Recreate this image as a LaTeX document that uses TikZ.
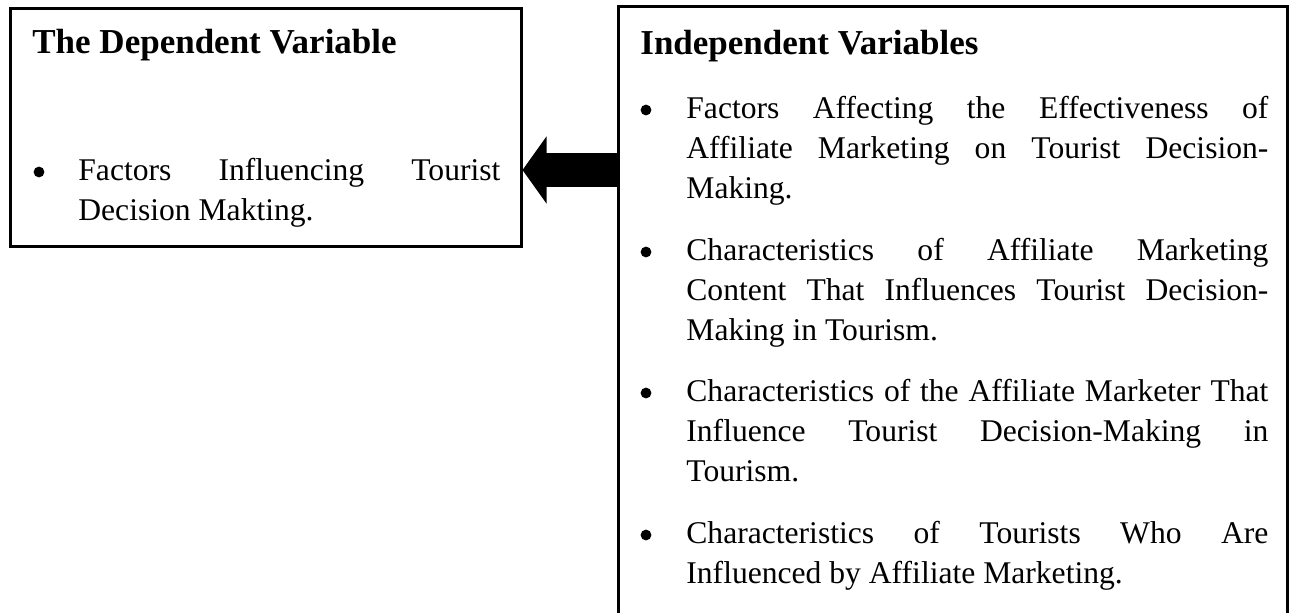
\documentclass[tikz,border=0pt]{standalone}
\usepackage{fontspec}
\setmainfont{Liberation Serif}
\usetikzlibrary{arrows.meta,fit}

\begin{document}
\begin{tikzpicture}[x=0.5pt,y=-0.5pt,
  panel/.style={draw,line width=1.5pt,inner sep=0pt},
  heading/.style={font=\fontsize{17.5}{20}\selectfont\bfseries,inner sep=0pt,anchor=base west},
  itemtext/.style={font=\fontsize{15.8}{20}\selectfont,inner sep=0pt,anchor=base west,align=justify},
  dot/.style={circle,fill,inner sep=0pt,minimum size=5.4pt}]
  \useasboundingbox (0,0) rectangle (1289,612);
  % the two boxes
  \node[panel,fit={(10,8) (521,246)}] (depbox) {};
  \node[panel,fit={(618,6) (1287,660)}] (indepbox) {};
  % left box
  \node[heading] (deptitle) at (32,53) {The Dependent Variable};
  \node[dot] (depdot) at (39,172) {};
  \node[itemtext,text width=211pt] (depitem) at (78,180) {Factors Influencing Tourist\linebreak Decision Makting.};
  % right box
  \node[heading] (indeptitle) at (640,54) {Independent Variables};
  \node[dot] (dotA) at (646,110) {};
  \node[itemtext,text width=291pt] (itemA) at (686,118) {Factors Affecting the Effectiveness of\linebreak Affiliate Marketing on Tourist Decision-\linebreak Making.};
  \node[dot] (dotB) at (646,252) {};
  \node[itemtext,text width=291pt] (itemB) at (686,260) {Characteristics of Affiliate Marketing\linebreak Content That Influences Tourist Decision-\linebreak Making in Tourism.};
  \node[dot] (dotC) at (646,393) {};
  \node[itemtext,text width=291pt] (itemC) at (686,401) {Characteristics of the Affiliate Marketer That\linebreak Influence Tourist Decision-Making in\linebreak Tourism.};
  \node[dot] (dotD) at (646,535) {};
  \node[itemtext,text width=291pt] (itemD) at (686,543) {Characteristics of Tourists Who Are\linebreak Influenced by Affiliate Marketing.};
  % block arrow
  \coordinate (arrowlevel) at (0,170);
  \draw[line width=17pt,-{Triangle[width=33pt,length=12pt]}] (indepbox.west |- arrowlevel) -- (depbox.east |- arrowlevel);
\end{tikzpicture}
\end{document}
